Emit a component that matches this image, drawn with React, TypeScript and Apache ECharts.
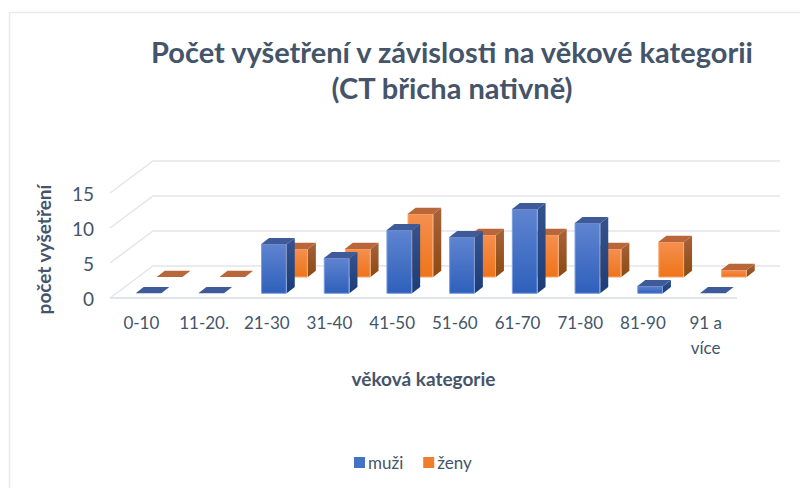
import React, { useEffect, useRef } from "react";
import * as echarts from "echarts";

const categories = ["0-10", "11-20.", "21-30", "31-40", "41-50", "51-60", "61-70", "71-80", "81-90", "91 a\nvíce"];
const muzi = [0, 0, 7, 5, 9, 8, 12, 10, 1, 0];
const zeny = [0, 0, 4, 4, 9, 6, 6, 4, 5, 1];
const yTicks = [0, 5, 10, 15];
const titleText = "Počet vyšetření v závislosti na věkové kategorii\n(CT břicha nativně)";
const FONT = "Lato";
const TEXT = "#44546a";

const grad = (a: string, b: string) =>
  new echarts.graphic.LinearGradient(0, 0, 0, 1, [
    { offset: 0, color: a },
    { offset: 1, color: b },
  ]);

function barRenderer(offX: number, offY: number, c: any) {
  return (params: any, api: any) => {
    const i = api.value(0);
    const v = api.value(1);
    const band = api.size([1, 0])[0];
    const w = band * 0.41;
    const dx = 8;
    const dy = 6.3;
    const centre = api.coord([i, 0]);
    const top = api.coord([i, v]);
    const x = centre[0] + offX;
    const yb = centre[1] + offY;
    const yt = top[1] + offY;
    const children: any[] = [];
    if (v > 0) {
      children.push({
        type: "polygon",
        shape: { points: [[x + w, yt], [x + w + dx, yt - dy], [x + w + dx, yb - dy], [x + w, yb]] },
        style: { fill: grad(c.sideA, c.sideB) },
      });
      children.push({
        type: "rect",
        shape: { x: x + 0.5, y: yt, width: w - 1, height: yb - yt },
        style: { fill: grad(c.frontA, c.frontB), stroke: c.edge, lineWidth: 1 },
      });
    }
    children.push({
      type: "polygon",
      shape: { points: [[x, yt], [x + dx, yt - dy], [x + w + dx, yt - dy], [x + w, yt]] },
      style: { fill: c.top },
    });
    return { type: "group", children };
  };
}

const blue = {
  frontA: "#5f84d0", frontB: "#2e60bb", sideA: "#34538f", sideB: "#1c3c78",
  top: "#3f5a98", edge: "#7b9cdc",
};
const orange = {
  frontA: "#f58f50", frontB: "#ef7418", sideA: "#a8623a", sideB: "#8b4a12",
  top: "#b8663a", edge: "#f7a570",
};

function wallRenderer(params: any, api: any) {
  const v = api.value(0);
  const p = api.coord([0, v]);
  const x0 = params.coordSys.x;
  const x1 = x0 + params.coordSys.width;
  const dx = 43;
  const dy = 32;
  const children: any[] = [
    {
      type: "polyline",
      shape: { points: [[x0, p[1]], [x0 + dx, p[1] - dy], [x1 + dx, p[1] - dy]] },
      style: { fill: "none", stroke: "#e2e5ec", lineWidth: 1.5 },
    },
  ];
  if (v === 0) {
    children.push({
      type: "line",
      shape: { x1: x0, y1: p[1], x2: x1, y2: p[1] },
      style: { stroke: "#e2e5ec", lineWidth: 2 },
    });
  }
  return { type: "group", children };
}

export default function App() {
  const ref = useRef<HTMLDivElement>(null);
  useEffect(() => {
    document.body.style.margin = "0";
    const chart = echarts.init(ref.current!, null, { renderer: "svg" });
    chart.setOption({
      animation: false,
      backgroundColor: "#ffffff",
      title: {
        text: titleText,
        left: 447,
        top: 28,
        textAlign: "center",
        textStyle: { fontFamily: FONT, fontSize: 29, fontWeight: "bold", color: TEXT, lineHeight: 36 },
      },
      legend: {
        left: 349,
        top: 449,
        itemWidth: 11,
        itemHeight: 11,
        itemGap: 20,
        icon: "rect",
        data: ["muži", "ženy"],
        textStyle: { fontFamily: FONT, fontSize: 17, color: TEXT, padding: [0, 0, 0, -2] },
      },
      grid: { left: 110, right: 63, top: 193, height: 105 },
      xAxis: {
        type: "category",
        data: categories,
        axisLine: { show: false },
        axisTick: { show: false },
        axisLabel: { interval: 0, margin: 12, fontFamily: FONT, fontSize: 17, color: TEXT, lineHeight: 25 },
        name: "věková kategorie",
        nameLocation: "middle",
        nameGap: 71,
        nameTextStyle: { fontFamily: FONT, fontSize: 19, fontWeight: "bold", color: TEXT },
      },
      yAxis: {
        type: "value",
        min: 0,
        max: 15,
        interval: 5,
        splitLine: { show: false },
        axisLine: { show: false },
        axisTick: { show: false },
        axisLabel: { margin: 16, fontFamily: FONT, fontSize: 19, color: TEXT },
        name: "počet vyšetření",
        nameLocation: "middle",
        nameGap: 57,
        nameTextStyle: { fontFamily: FONT, fontSize: 19, fontWeight: "bold", color: TEXT, padding: [0, 0, 0, -8] },
      },
      graphic: [
        {
          type: "polyline",
          silent: true,
          z: -1,
          shape: { points: [[9.5, 488], [9.5, 12.5], [800, 12.5]] },
          style: { fill: "none", stroke: "#e6eaf0", lineWidth: 1.5 },
        },
      ],
      series: [
        {
          type: "custom",
          name: "walls",
          z: 1,
          silent: true,
          renderItem: wallRenderer,
          data: yTicks.map((t) => [t]),
          encode: { y: 0 },
        },
        {
          type: "custom",
          name: "ženy",
          z: 2,
          itemStyle: { color: "#ef7d2e" },
          renderItem: barRenderer(15.4, -21, orange),
          data: zeny.map((v, i) => [i, v]),
          encode: { x: 0, y: 1 },
        },
        {
          type: "custom",
          name: "muži",
          z: 3,
          itemStyle: { color: "#4472c4" },
          renderItem: barRenderer(-5.7, -4.7, blue),
          data: muzi.map((v, i) => [i, v]),
          encode: { x: 0, y: 1 },
        },
      ],
    });
    return () => chart.dispose();
  }, []);
  return <div ref={ref} style={{ position: "fixed", left: 0, top: 0, width: 800, height: 488 }} />;
}
